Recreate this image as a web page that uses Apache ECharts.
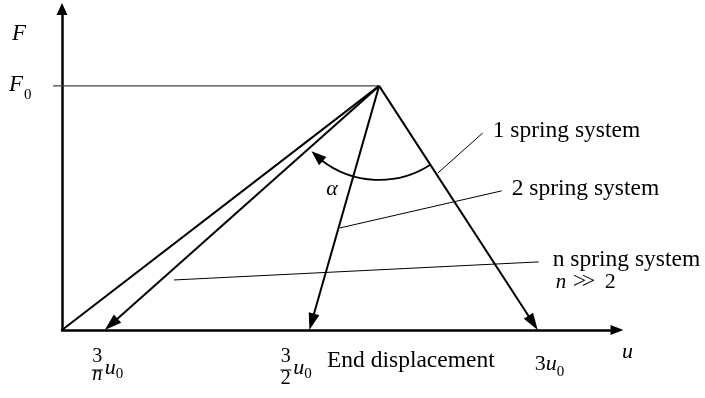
<!DOCTYPE html>
<html>
<head>
<meta charset="utf-8">
<script src="https://cdn.jsdelivr.net/npm/echarts@6/dist/echarts.min.js"></script>
<style>
  html, body { margin: 0; padding: 0; background: #fff; }
  #chart { width: 705px; height: 398px; }
</style>
</head>
<body>
<div id="chart"></div>
<script>
// Force–end displacement diagram: loading up to F0, then unloading
// for systems built from 1, 2 and n springs (u in units of u0, F in units of F0).
const peakPoint = [2.0, 1.0];                 // [u/u0, F/F0] at the load peak
const endDisplacement = [0.27, 1.56, 3.0];    // end of unloading: n, 2 and 1 spring systems
const endLabels = ['3/n', '3/2', '3'];        // coefficient of u0 written under each end point
const systemNames = ['1 spring system', '2 spring system', 'n spring system'];
const leaderFrom = [[2.37, 0.643], [1.752, 0.418], [0.706, 0.205]];
const leaderTo = [[2.653, 0.807], [2.773, 0.570], [3.006, 0.279]];

const SERIF = '"Liberation Serif", "Times New Roman", serif';
const INK = '#000';

// text element positioned by its baseline
function baseText(x, baseline, text, size, italic, align) {
  return {
    type: 'text', x: x, y: baseline - 0.34 * size,
    style: {
      text: text, fill: INK, align: align || 'left', verticalAlign: 'middle',
      font: (italic ? 'italic ' : '') + size + 'px ' + SERIF
    }
  };
}

const chart = echarts.init(document.getElementById('chart'), null, { renderer: 'canvas' });

// left edge of each end-point label relative to its end point (px)
const labelLeft = [-13, -29, -3];

const option = {
  animation: false,
  backgroundColor: '#fff',
  grid: { left: 62, top: 9, width: 555, height: 321, containLabel: false },
  xAxis: {
    type: 'value', min: 0, max: 3.5,
    axisLine: { show: true, onZero: false, symbol: ['none', 'triangle'], symbolSize: [10, 13],
      lineStyle: { color: INK, width: 2.5 } },
    axisTick: { show: false }, axisLabel: { show: false }, splitLine: { show: false }
  },
  yAxis: {
    type: 'value', min: 0, max: 1.315,
    axisLine: { show: true, onZero: false, symbol: ['none', 'triangle'], symbolSize: [11, 12],
      lineStyle: { color: INK, width: 2.5 } },
    axisTick: { show: false }, axisLabel: { show: false }, splitLine: { show: false }
  },
  series: [
    // F0 level line
    {
      type: 'custom', coordinateSystem: 'cartesian2d', clip: false, silent: true, z: 2,
      data: [peakPoint],
      renderItem: function (params, api) {
        const p = api.coord([api.value(0), api.value(1)]);
        const a = api.coord([0, api.value(1)]);
        return { type: 'line', shape: { x1: a[0] - 9, y1: p[1], x2: p[0], y2: p[1] },
          style: { stroke: '#444', lineWidth: 1.2 } };
      }
    },
    // loading branch
    {
      type: 'line', data: [[0, 0], peakPoint], symbol: 'none', silent: true, z: 3,
      lineStyle: { color: INK, width: 2 }
    },
    // unloading branches with arrow heads
    {
      type: 'custom', coordinateSystem: 'cartesian2d', clip: false, silent: true, z: 4,
      data: endDisplacement.map(function (u) { return [u, 0]; }),
      renderItem: function (params, api) {
        const p = api.coord(peakPoint);
        const e = api.coord([api.value(0), api.value(1)]);
        const dx = e[0] - p[0], dy = e[1] - p[1], d = Math.hypot(dx, dy);
        const ux = dx / d, uy = dy / d, L = 17, W = 11;
        const bx = e[0] - ux * L, by = e[1] - uy * L;
        return {
          type: 'group', children: [
            { type: 'line', shape: { x1: p[0], y1: p[1], x2: bx + ux * 2, y2: by + uy * 2 },
              style: { stroke: INK, lineWidth: 2 } },
            { type: 'polygon', shape: { points: [[e[0], e[1]], [bx - uy * W / 2, by + ux * W / 2], [bx + uy * W / 2, by - ux * W / 2]] },
              style: { fill: INK } }
          ]
        };
      }
    },
    // angle alpha between the steepest and the flattest unloading branch
    {
      type: 'custom', coordinateSystem: 'cartesian2d', clip: false, silent: true, z: 5,
      data: [peakPoint],
      renderItem: function (params, api) {
        const c = api.coord(peakPoint);
        const e1 = api.coord([endDisplacement[2], 0]);
        const e2 = api.coord([endDisplacement[0], 0]);
        const a1 = Math.atan2(e1[1] - c[1], e1[0] - c[0]);
        const a2 = Math.atan2(e2[1] - c[1], e2[0] - c[0]) - 0.04;
        const r = 94, L = 15, W = 11;
        const aBase = a2 - L / r;
        const tip = [c[0] + r * Math.cos(a2), c[1] + r * Math.sin(a2)];
        const base = [c[0] + r * Math.cos(aBase), c[1] + r * Math.sin(aBase)];
        const dx = tip[0] - base[0], dy = tip[1] - base[1], d = Math.hypot(dx, dy);
        const ux = dx / d, uy = dy / d;
        return {
          type: 'group', children: [
            { type: 'arc', shape: { cx: c[0], cy: c[1], r: r, startAngle: a1, endAngle: aBase + 0.02, clockwise: true },
              style: { stroke: INK, lineWidth: 1.8, fill: null } },
            { type: 'polygon', shape: { points: [tip, [base[0] - uy * W / 2, base[1] + ux * W / 2], [base[0] + uy * W / 2, base[1] - ux * W / 2]] },
              style: { fill: INK } },
            baseText(c[0] - 53, c[1] + 111, 'α', 22, true)
          ]
        };
      }
    },
    // leader lines and system names
    {
      type: 'custom', coordinateSystem: 'cartesian2d', clip: false, silent: true, z: 6,
      data: leaderTo,
      renderItem: function (params, api) {
        const i = params.dataIndex;
        const a = api.coord(leaderFrom[i]);
        const b = api.coord([api.value(0), api.value(1)]);
        const children = [
          { type: 'line', shape: { x1: a[0], y1: a[1], x2: b[0], y2: b[1] }, style: { stroke: INK, lineWidth: 1 } },
          baseText(b[0] + (i === 2 ? 14 : 10), b[1] + 6, systemNames[i], 23.5, false)
        ];
        if (i === 2) {
          // condition n ≫ 2, the "much greater" sign built from two nested angle brackets
          children.push(baseText(b[0] + 17, b[1] + 28, 'n', 21, true));
          children.push(baseText(b[0] + 34, b[1] + 28, '>', 24, false));
          children.push(baseText(b[0] + 43, b[1] + 28, '>', 24, false));
          children.push(baseText(b[0] + 66, b[1] + 28, '2', 22, false));
        }
        return { type: 'group', children: children };
      }
    },
    // end-point labels on the displacement axis
    {
      type: 'custom', coordinateSystem: 'cartesian2d', clip: false, silent: true, z: 6,
      data: endDisplacement.map(function (u) { return [u, 0]; }),
      renderItem: function (params, api) {
        const i = params.dataIndex;
        const t = api.coord([api.value(0), 0]);
        const L = t[0] + labelLeft[i];
        const parts = endLabels[i].split('/');
        const children = [];
        if (parts.length === 2) {
          const den = parts[1];
          children.push(baseText(L + 5.5, 364, parts[0], 20, false, 'center'));
          children.push({ type: 'line', shape: { x1: L, y1: 370, x2: L + 11, y2: 370 }, style: { stroke: INK, lineWidth: 1 } });
          children.push(baseText(L + 5.5, /\d/.test(den) ? 386 : 382, den, 20, !/\d/.test(den), 'center'));
          children.push(baseText(L + 13, 376, 'u', 22, true));
          children.push(baseText(L + 24, 379, '0', 15, false));
        } else {
          children.push(baseText(L, 372, parts[0], 22, false));
          children.push(baseText(L + 11, 372, 'u', 22, true));
          children.push(baseText(L + 22, 377, '0', 15, false));
        }
        if (i === 1) {
          children.push(baseText(327, 369, 'End displacement', 23.5, false));
        }
        return { type: 'group', children: children };
      }
    },
    // axis symbols F, F0 and u
    {
      type: 'custom', coordinateSystem: 'cartesian2d', clip: false, silent: true, z: 6,
      data: [peakPoint],
      renderItem: function (params, api) {
        const f0 = api.coord([0, api.value(1)]);
        const o = api.coord([0, 0]);
        return {
          type: 'group', children: [
            baseText(12, 42, 'F', 23, true),
            baseText(f0[0] - 53, f0[1] + 7, 'F', 23, true),
            baseText(f0[0] - 38, f0[1] + 14, '0', 15, false),
            baseText(o[0] + 560, o[1] + 30, 'u', 22, true)
          ]
        };
      }
    }
  ]
};

chart.setOption(option);
</script>
</body>
</html>
